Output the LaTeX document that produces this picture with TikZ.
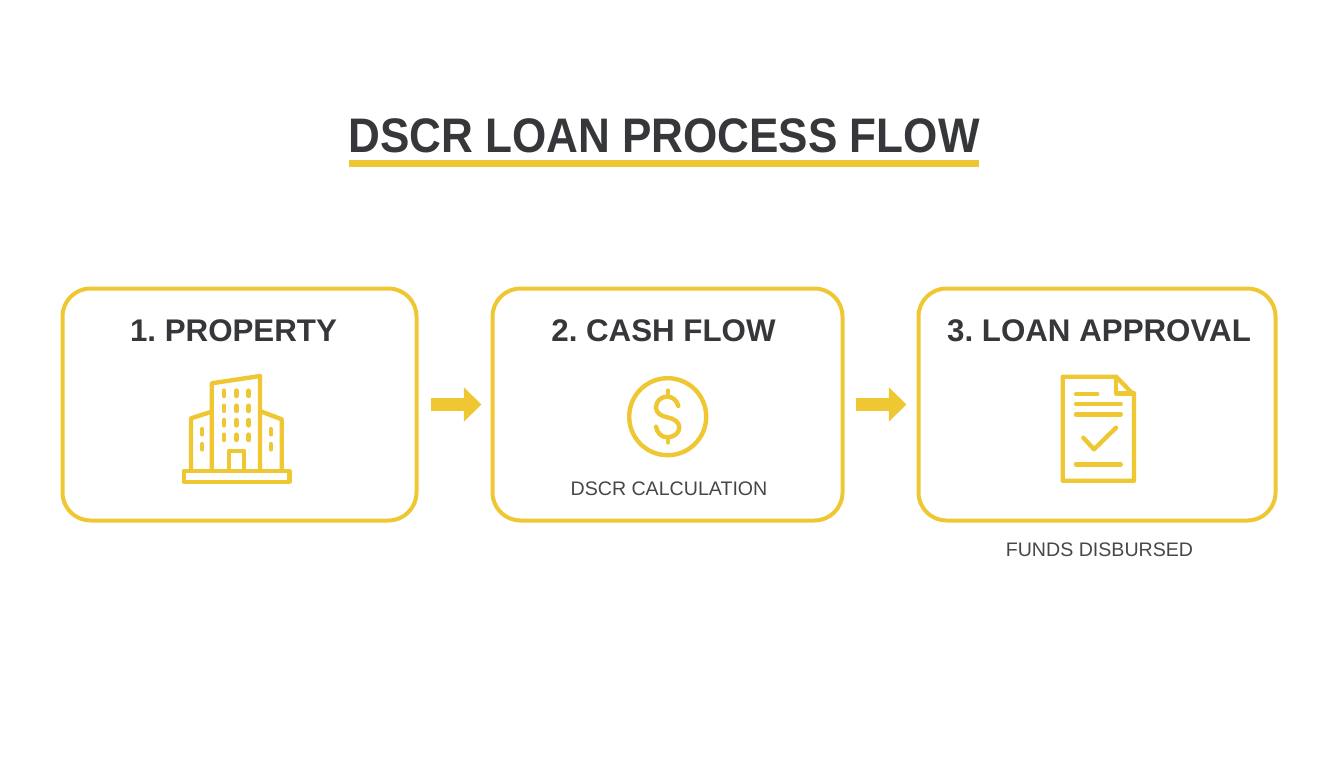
\documentclass[tikz,border=0pt]{standalone}
\usepackage{fontspec}
\setmainfont{Liberation Sans}
\usetikzlibrary{arrows.meta}
\definecolor{gold}{HTML}{EFC733}
\definecolor{ink}{HTML}{35373A}
\definecolor{soft}{HTML}{45474A}
\tikzset{
  stepbox/.style={draw=gold,line width=4pt,rounded corners=28pt,fill=white,inner sep=0pt},
  steptitle/.style={text=ink,font=\bfseries\fontsize{31.3}{36}\selectfont,inner sep=0pt,anchor=base},
  smalltext/.style={text=soft,font=\fontsize{19.6}{24}\selectfont,inner sep=0pt,anchor=base},
  icon/.style={draw=gold,line width=4.4pt,line join=round,line cap=round},
  thinicon/.style={draw=gold,line width=4.4pt,line cap=round},
  win/.style={draw=gold,line width=4.8pt,line cap=round},
  flow/.style={draw=gold,line width=13.4pt,-{Triangle[length=17.7pt,width=33.4pt]}}
}
\begin{document}
\frenchspacing
\begin{tikzpicture}[x=1pt,y=-1pt]
\useasboundingbox (0,0) rectangle (1344,768);
% title
\node[text=ink,font=\bfseries\fontsize{48.5}{56}\selectfont,inner sep=0pt,anchor=base] (title) at (664,152) {\scalebox{0.908}[1]{DSCR LOAN PROCESS FLOW}};
\fill[gold] (349,160) rectangle (979,167);
% boxes
\node[stepbox,minimum width=354pt,minimum height=232pt] (b1) at (239.5,404.5) {};
\node[stepbox,minimum width=350pt,minimum height=232pt] (b2) at (667.5,404.5) {};
\node[stepbox,minimum width=357pt,minimum height=232pt] (b3) at (1097,404.5) {};
% flows
\draw[flow,shorten <=12pt,shorten >=9pt] (b1) -- (b2);
\draw[flow,shorten <=11pt,shorten >=10pt] (b2) -- (b3);
% labels
\node[steptitle] (t1) at (233.5,341) {1. PROPERTY};
\node[steptitle] (t2) at (663.5,341) {2. CASH FLOW};
\node[steptitle] (t3) at (1099,341) {3. LOAN APPROVAL};
\node[smalltext] (s2) at (669,495) {DSCR CALCULATION};
\node[smalltext] (s3) at (1099.5,556) {FUNDS DISBURSED};
% building
\draw[icon] (211.7,470) -- (211.7,383.3) -- (260,376) -- (260,470);
\draw[icon] (211.7,411.7) -- (191,418.3) -- (191,470);
\draw[icon] (261.7,411.7) -- (281.7,419.3) -- (281.7,470);
\draw[icon] (184,470.7) rectangle (289.3,481.7);
\draw[icon] (229,470) -- (229,450.7) -- (244,450.7) -- (244,470);
\foreach \x in {224,236.3,248.7} \foreach \y in {393.3,408.3,422.7,437.3}
  \draw[win] (\x,\y-2.5) -- (\x,\y+2.5);
\foreach \x in {202,271} \foreach \y in {431.7,446.7}
  \draw[win] (\x,\y-2.5) -- (\x,\y+2.5);
% coin
\draw[icon] (667.7,416.7) circle[radius=38.5];
\draw[icon] (678.3,406) .. controls (677,400) and (672,396.7) .. (667.3,396.7)
  .. controls (660,396.7) and (656,402) .. (656,407.5)
  .. controls (656,413) and (661,416) .. (667.3,417.3)
  .. controls (674,418.6) and (679.3,422) .. (679.3,427.5)
  .. controls (679.3,433) and (674,437.3) .. (667.3,437.3)
  .. controls (661,437.3) and (657,432.5) .. (656,426.7);
\draw[thinicon] (667.7,390.5) -- (667.7,396.7);
\draw[thinicon] (667.7,437.3) -- (667.7,442.5);
% document
\draw[icon] (1116,376.7) -- (1062.7,376.7) -- (1062.7,480.7) -- (1134,480.7) -- (1134,395) -- cycle;
\draw[icon] (1116,376.7) -- (1116,393.3) -- (1134,393.3);
\draw[thinicon] (1076,394) -- (1097.3,394);
\draw[thinicon] (1076,404) -- (1120.7,404);
\draw[thinicon] (1076,414.3) -- (1120.7,414.3);
\draw[icon] (1083.3,437.7) -- (1094,449.3) -- (1116,427.7);
\draw[thinicon] (1076,464.3) -- (1120.7,464.3);
\end{tikzpicture}
\end{document}
